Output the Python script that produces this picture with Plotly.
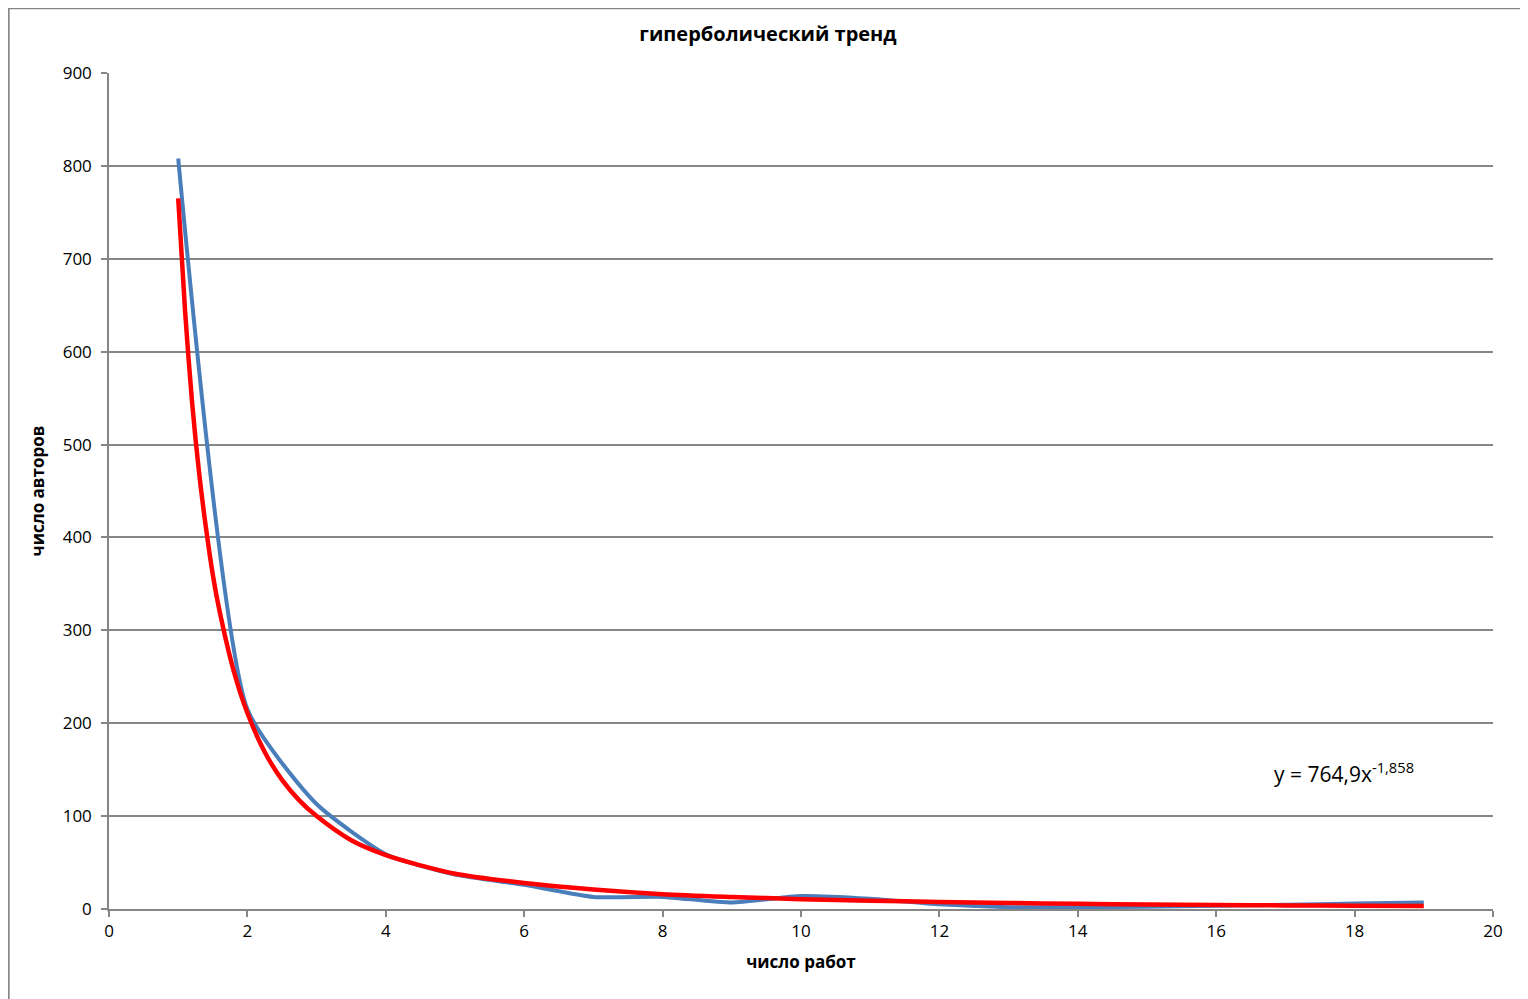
import plotly.graph_objects as go

# observed data: number of authors by number of works
works = list(range(1, 20))
authors = [808, 215, 113, 59, 37, 26, 13, 13, 7, 14, 11, 5, 2, 2, 2.5, 3.5, 4.5, 6, 7]

# power trend line
trend_x = [1, 1.1, 1.2, 1.3, 1.4, 1.5, 1.6, 1.8, 2, 2.25, 2.5, 2.75, 3, 3.5, 4, 4.5,
           5, 6, 7, 8, 9, 10, 11, 12, 13, 14, 15, 16, 17, 18, 19]
trend_y = [765, 643, 546, 471, 411, 360, 320, 257, 211, 169, 139, 117, 100, 74, 58, 47,
           38, 28, 21, 16, 13, 10.6, 8.9, 7.6, 6.5, 5.6, 4.9, 4.3, 3.9, 3.5, 3.2]

title_text = "гиперболический тренд"
x_title = "число работ"
y_title = "число авторов"
equation = "y = 764,9x<sup>-1,858</sup>"

FONT = "Open Sans"
GRID = "#868686"

fig = go.Figure()

fig.add_trace(go.Scatter(
    x=works, y=authors,
    mode="lines",
    line=dict(color="#4A7EBB", width=4, shape="spline", smoothing=0.55),
    name="авторы",
    hoverinfo="skip",
))

fig.add_trace(go.Scatter(
    x=trend_x, y=trend_y,
    mode="lines",
    line=dict(color="#FF0000", width=4.5, shape="spline", smoothing=0.8),
    name="тренд",
    hoverinfo="skip",
))

fig.add_annotation(
    x=17.85, y=147, xref="x", yref="y",
    text=equation, showarrow=False,
    font=dict(family=FONT, size=21, color="#000000"),
)

# outer chart frame
fig.add_shape(
    type="rect", xref="paper", yref="paper",
    x0=-0.0725, x1=1.0245, y0=-0.117, y1=1.0775,
    line=dict(color=GRID, width=2),
    layer="below",
)

# page body has an 8px margin, so the figure is 8px smaller than the window
fig.update_layout(
    width=1520, height=991,
    margin=dict(l=101, r=35, t=65, b=90),
    paper_bgcolor="white",
    plot_bgcolor="white",
    showlegend=False,
    title=dict(
        text=f"<b>{title_text}</b>",
        x=0.5, xanchor="center",
        y=0.974, yanchor="middle",
        font=dict(family=FONT, size=20, color="#000000"),
    ),
    font=dict(family=FONT, size=17, color="#000000"),
)

fig.update_xaxes(
    range=[0, 20], dtick=2, tick0=0,
    showgrid=False, zeroline=False,
    showline=True, linecolor=GRID, linewidth=1.5,
    ticks="outside", ticklen=6, tickcolor=GRID, tickwidth=1.5,
    tickfont=dict(family=FONT, size=17),
    title=dict(text=f"<b>{x_title}</b>", font=dict(family=FONT, size=17), standoff=15),
)

fig.update_yaxes(
    range=[0, 900], dtick=100, tick0=0,
    showgrid=True, gridcolor=GRID, gridwidth=1.5,
    zeroline=False,
    showline=True, linecolor=GRID, linewidth=1.5,
    ticks="outside", ticklen=6, tickcolor=GRID, tickwidth=1.5,
    ticklabelstandoff=6,
    tickfont=dict(family=FONT, size=17),
    title=dict(text=f"<b>{y_title}</b>", font=dict(family=FONT, size=17), standoff=14),
)

fig.write_html("out.html")
